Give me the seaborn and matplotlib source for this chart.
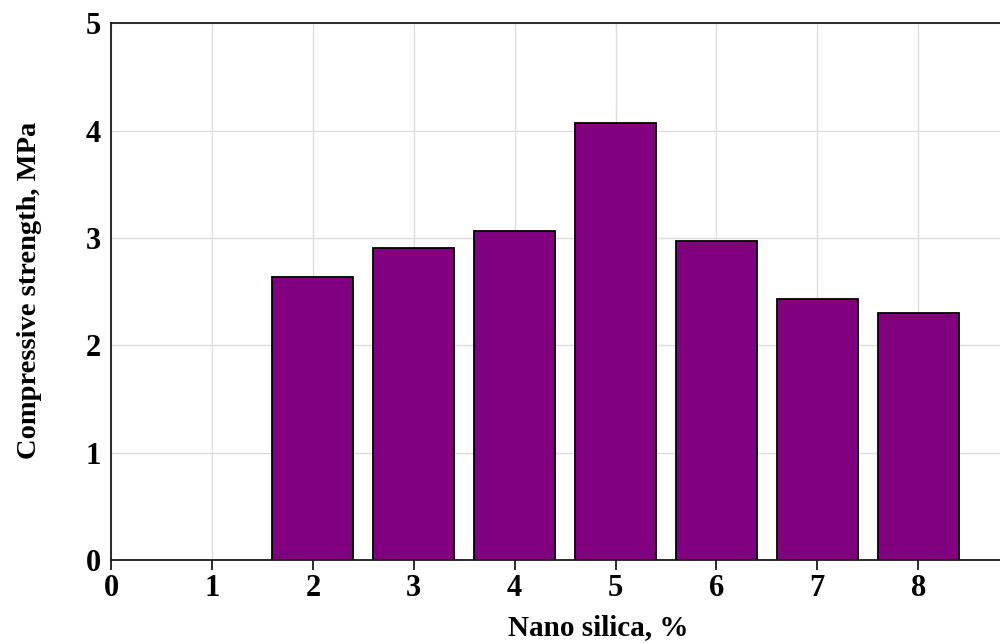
import numpy as np
import pandas as pd
import seaborn as sns
import matplotlib
matplotlib.use("Agg")
import matplotlib.pyplot as plt

# values
nano_silica = [2, 3, 4, 5, 6, 7, 8]
strength = [2.64, 2.91, 3.06, 4.07, 2.97, 2.43, 2.30]
x_ticks = [0, 1, 2, 3, 4, 5, 6, 7, 8]
y_ticks = [0, 1, 2, 3, 4, 5]

df = pd.DataFrame({"nano": nano_silica, "strength": strength})

sns.set_style("whitegrid")
plt.rcParams["font.family"] = ["Liberation Serif", "DejaVu Serif"]
plt.rcParams["font.weight"] = "bold"
plt.rcParams["text.color"] = "black"
plt.rcParams["axes.labelcolor"] = "black"
plt.rcParams["xtick.color"] = "black"
plt.rcParams["ytick.color"] = "black"

fig = plt.figure(figsize=(10, 6.43), dpi=100)
ax = fig.add_axes([0.111, 0.129, 0.889, 0.835])

sns.barplot(
    data=df,
    x="nano",
    y="strength",
    native_scale=True,
    color="#800080",
    saturation=1,
    edgecolor="black",
    linewidth=1.3,
    width=0.8,
    ax=ax,
)

ax.set_xlim(0, 8.81)
ax.set_ylim(0, 5)
ax.set_xticks(x_ticks)
ax.set_yticks(y_ticks)
ax.set_xticklabels([str(t) for t in x_ticks])
ax.set_yticklabels([str(t) for t in y_ticks])

ax.grid(True, color="#dcdcdc", linewidth=1.0)
ax.set_axisbelow(True)

for side in ["left", "bottom", "top"]:
    ax.spines[side].set_visible(True)
    ax.spines[side].set_color("#1a1a1a")
    ax.spines[side].set_linewidth(1.3)
ax.spines["right"].set_visible(False)

ax.tick_params(axis="x", length=7, width=1.3, color="#1a1a1a", pad=3,
               labelsize=22, labelcolor="black", bottom=True)
ax.tick_params(axis="y", length=0, pad=7, labelsize=22, labelcolor="black",
               left=False)

ax.set_xlabel("Nano silica, %", fontsize=21, fontweight="bold", color="black")
ax.set_ylabel("Compressive strength, MPa", fontsize=20.5, fontweight="bold",
              color="black")
ax.xaxis.set_label_coords(0.548, -0.125)
ax.xaxis.label.set_va("center")
ax.yaxis.set_label_coords(-0.092, 0.503)
ax.yaxis.label.set_va("center")

fig.savefig("out.png", dpi=100, facecolor="white")
plt.close()
